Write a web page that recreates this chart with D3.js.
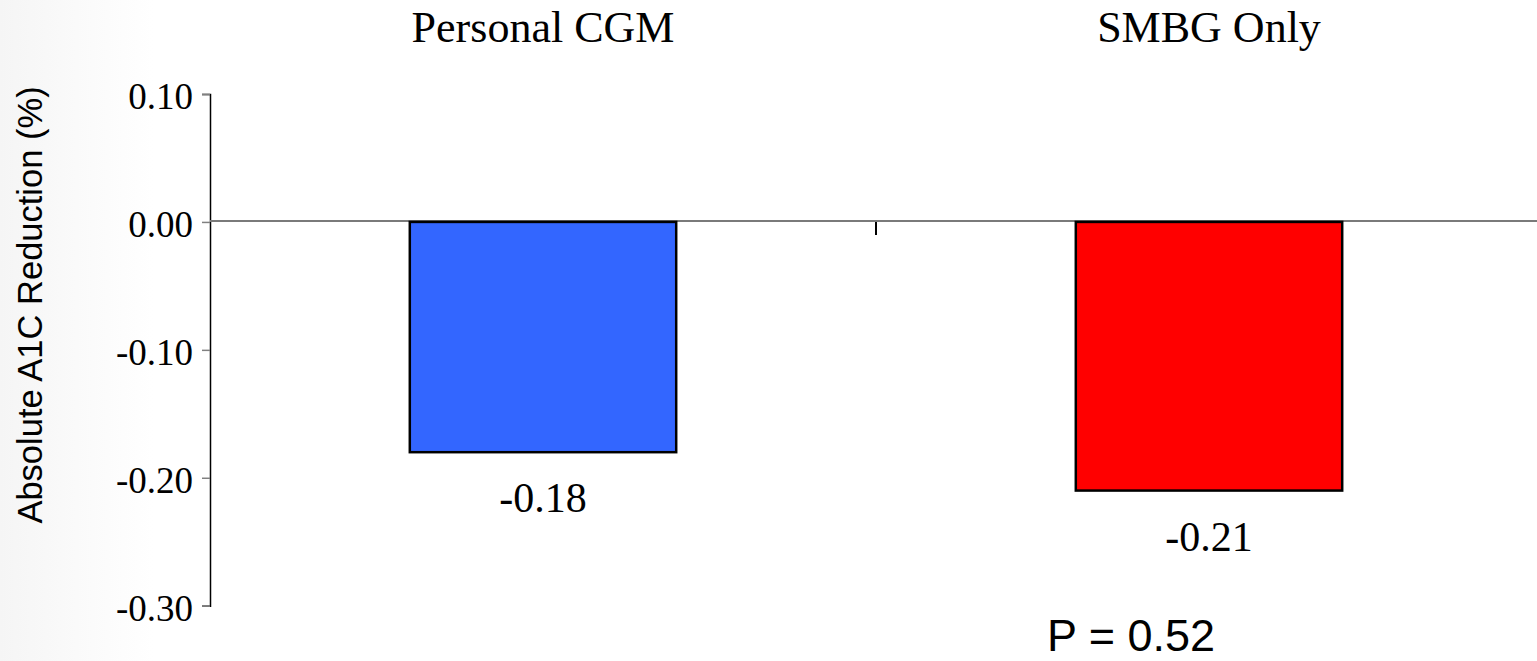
<!DOCTYPE html>
<html>
<head>
<meta charset="utf-8">
<script src="https://cdn.jsdelivr.net/npm/d3@7"></script>
<style>
  html, body { margin: 0; padding: 0; background: #fff; }
  svg { display: block; }
</style>
</head>
<body>
<div id="chart"></div>
<script>
// Chart data
const categories = ["Personal CGM", "SMBG Only"];
const values = [-0.18, -0.21];
const valueLabels = ["-0.18", "-0.21"];
const barColors = ["#3366ff", "#ff0000"];
const yTicks = [0.10, 0.00, -0.10, -0.20, -0.30];
const yTitle = "Absolute A1C Reduction (%)";
const pValueText = "P = 0.52";

const width = 1537, height = 661;
const serif = "'Palatino Linotype', 'Book Antiqua', Palatino, 'Liberation Serif', serif";
const sans = "Arial, 'Liberation Sans', sans-serif";

const svg = d3.select("#chart")
    .append("svg")
    .attr("width", width)
    .attr("height", height);

// subtle slide background shading on the left
const defs = svg.append("defs");
const grad = defs.append("linearGradient").attr("id", "bg").attr("x1", 0).attr("x2", 1).attr("y1", 0).attr("y2", 0);
grad.append("stop").attr("offset", "0%").attr("stop-color", "#f5f5f5");
grad.append("stop").attr("offset", "10%").attr("stop-color", "#ffffff");
grad.append("stop").attr("offset", "100%").attr("stop-color", "#ffffff");
svg.append("rect").attr("width", width).attr("height", height).attr("fill", "url(#bg)");

// Scales
const xScale = d3.scaleBand()
    .domain(categories)
    .range([210, 1542])
    .paddingInner(0.6)
    .paddingOuter(0.3);

const yScale = d3.scaleLinear()
    .domain([-0.3, 0.1])
    .range([605.7, 94]);

// Y axis (plain hyphen for negatives, as on the slide)
const yAxis = d3.axisLeft(yScale)
    .tickValues(yTicks)
    .tickSize(8)
    .tickPadding(9)
    .tickFormat(d => (d < 0 ? "-" : "") + Math.abs(d).toFixed(2));

const yAxisG = svg.append("g")
    .attr("transform", "translate(210,0)")
    .call(yAxis);

yAxisG.select(".domain")
    .attr("stroke", "#000")
    .attr("stroke-width", 1.5);
yAxisG.selectAll(".tick line")
    .attr("stroke", "#808080")
    .attr("stroke-width", 1.5);
yAxisG.selectAll(".tick text")
    .attr("fill", "#000")
    .attr("dy", "0.4em")
    .style("font-family", serif)
    .style("font-size", "37px");

// Zero line (under the bars)
svg.append("line")
    .attr("x1", 210)
    .attr("x2", width)
    .attr("y1", yScale(0) - 1)
    .attr("y2", yScale(0) - 1)
    .attr("stroke", "#7a7a7a")
    .attr("stroke-width", 2);

// Bars
svg.selectAll("rect.bar")
    .data(values)
    .enter()
    .append("rect")
    .attr("class", "bar")
    .attr("x", (d, i) => xScale(categories[i]))
    .attr("y", d => Math.min(yScale(d), yScale(0)))
    .attr("width", xScale.bandwidth())
    .attr("height", d => Math.abs(yScale(d) - yScale(0)))
    .attr("fill", (d, i) => barColors[i])
    .attr("stroke", "#000")
    .attr("stroke-width", 2.5);

// Category separator tick
const sepX = (xScale(categories[0]) + xScale.bandwidth() + xScale(categories[1])) / 2;
svg.append("line")
    .attr("x1", sepX)
    .attr("x2", sepX)
    .attr("y1", yScale(0))
    .attr("y2", yScale(0) + 13)
    .attr("stroke", "#000")
    .attr("stroke-width", 2);

// Category labels on top
svg.selectAll("text.cat")
    .data(categories)
    .enter()
    .append("text")
    .attr("class", "cat")
    .attr("x", d => xScale(d) + xScale.bandwidth() / 2)
    .attr("y", 42)
    .attr("text-anchor", "middle")
    .style("font-family", serif)
    .style("font-size", "44px")
    .text(d => d);

// Value labels below bars
svg.selectAll("text.val")
    .data(values)
    .enter()
    .append("text")
    .attr("class", "val")
    .attr("x", (d, i) => xScale(categories[i]) + xScale.bandwidth() / 2)
    .attr("y", d => yScale(d) + 60)
    .attr("text-anchor", "middle")
    .style("font-family", serif)
    .style("font-size", "42px")
    .text((d, i) => valueLabels[i]);

// Y axis title
svg.append("text")
    .attr("transform", "translate(42,305) rotate(-90)")
    .attr("text-anchor", "middle")
    .style("font-family", sans)
    .style("font-size", "34.5px")
    .text(yTitle);

// P value
svg.append("text")
    .attr("x", 1047)
    .attr("y", 651)
    .style("font-family", sans)
    .style("font-size", "45px")
    .text(pValueText);
</script>
</body>
</html>
